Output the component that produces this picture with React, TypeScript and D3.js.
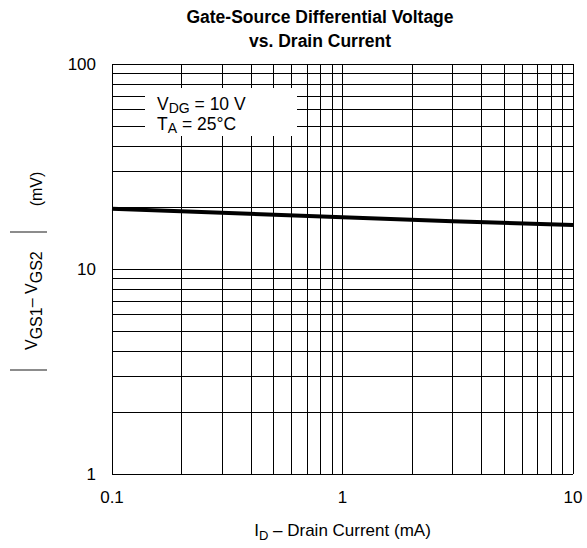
import { useEffect, useRef } from "react";
import * as d3 from "d3";

// drain current (mA) and |VGS1 - VGS2| (mV)
const currentMA = [0.1, 0.3, 1, 3, 10];
const diffMV = [19.7, 18.8, 17.9, 17.1, 16.4];

const xTickValues = [0.1, 1, 10];
const xTickLabels = ["0.1", "1", "10"];
const yTickValues = [1, 10, 100];
const yTickLabels = ["1", "10", "100"];

const titleLines = ["Gate-Source Differential Voltage", "vs. Drain Current"];

function App() {
  const ref = useRef<SVGSVGElement>(null);

  useEffect(() => {
    const width = 587;
    const height = 548;
    const margin = { top: 64, right: 14, bottom: 74, left: 112 };
    const font = "'Liberation Sans', Arial, sans-serif";

    const svg = d3.select(ref.current);
    svg.selectAll("*").remove();
    svg.attr("width", width).attr("height", height);

    const x = d3.scaleLog([0.1, 10], [margin.left, width - margin.right]);
    const y = d3.scaleLog([1, 100], [height - margin.bottom, margin.top]);

    // titre
    svg
      .append("g")
      .selectAll("text")
      .data(titleLines)
      .join("text")
      .attr("x", 320)
      .attr("y", (d, i) => 23 + i * 24)
      .attr("text-anchor", "middle")
      .attr("font-family", font)
      .attr("font-weight", "bold")
      .attr("font-size", 17.5)
      .text((d) => d);

    // grille (1..9 par décade)
    const minors: number[] = [];
    [0.1, 1].forEach((dec) => {
      for (let k = 1; k <= 10; k++) minors.push(dec * k);
    });
    const yMinors: number[] = [];
    [1, 10].forEach((dec) => {
      for (let k = 1; k <= 10; k++) yMinors.push(dec * k);
    });

    const grid = svg.append("g").attr("stroke", "#000").attr("stroke-width", 1);
    grid
      .selectAll(".v")
      .data(minors)
      .join("line")
      .attr("x1", (d) => Math.round(x(d)) + 0.5)
      .attr("x2", (d) => Math.round(x(d)) + 0.5)
      .attr("y1", y(100))
      .attr("y2", y(1));
    grid
      .selectAll(".h")
      .data(yMinors)
      .join("line")
      .attr("y1", (d) => Math.round(y(d)) + 0.5)
      .attr("y2", (d) => Math.round(y(d)) + 0.5)
      .attr("x1", x(0.1))
      .attr("x2", x(10));

    // courbe
    const line = d3
      .line<number>()
      .x((d, i) => x(currentMA[i]))
      .y((d) => y(d));
    svg
      .append("path")
      .datum(diffMV)
      .attr("d", line)
      .attr("fill", "none")
      .attr("stroke", "#000")
      .attr("stroke-width", 4);

    // boîte de légende
    svg
      .append("rect")
      .attr("x", 145)
      .attr("y", 88)
      .attr("width", 152)
      .attr("height", 48)
      .attr("fill", "#fff");

    const leg = svg
      .append("g")
      .attr("font-family", font)
      .attr("font-size", 17.5);
    const t1 = leg.append("text").attr("x", 157).attr("y", 110);
    t1.append("tspan").text("V");
    t1.append("tspan").attr("dy", 3).attr("font-size", 14).text("DG");
    t1.append("tspan").attr("dy", -3).text(" = 10 V");
    const t2 = leg.append("text").attr("x", 157).attr("y", 130);
    t2.append("tspan").text("T");
    t2.append("tspan").attr("dy", 3).attr("font-size", 14).text("A");
    t2.append("tspan").attr("dy", -3).text(" = 25\u00B0C");

    // graduations
    svg
      .append("g")
      .selectAll("text")
      .data(xTickValues)
      .join("text")
      .attr("x", (d) => x(d))
      .attr("y", height - margin.bottom + 29)
      .attr("text-anchor", "middle")
      .attr("font-family", font)
      .attr("font-size", 17)
      .text((d, i) => xTickLabels[i]);

    svg
      .append("g")
      .selectAll("text")
      .data(yTickValues)
      .join("text")
      .attr("x", margin.left - 16)
      .attr("y", (d) => y(d) + 6)
      .attr("text-anchor", "end")
      .attr("font-family", font)
      .attr("font-size", 17)
      .text((d, i) => yTickLabels[i]);

    // titre axe X
    const xt = svg
      .append("text")
      .attr("x", x(1))
      .attr("y", 536)
      .attr("text-anchor", "middle")
      .attr("font-family", font)
      .attr("font-size", 17);
    xt.append("tspan").text("I");
    xt.append("tspan").attr("dy", 4).attr("font-size", 13).text("D");
    xt.append("tspan").attr("dy", -4).text(" \u2013 Drain Current (mA)");

    // titre axe Y (tourné)
    const yt = svg.append("g").attr("transform", "rotate(-90)");
    [-370, -232].forEach((lx) => {
      yt.append("line")
        .attr("x1", lx)
        .attr("x2", lx)
        .attr("y1", 10)
        .attr("y2", 47)
        .attr("stroke", "#666")
        .attr("stroke-width", 1.3);
    });
    const ylab = yt
      .append("text")
      .attr("x", -350)
      .attr("y", 37)
      .attr("font-family", font)
      .attr("font-size", 16);
    ylab.append("tspan").text("V");
    ylab.append("tspan").attr("dy", 5).text("GS1");
    ylab.append("tspan").attr("dy", -5).text("\u2013 V");
    ylab.append("tspan").attr("dy", 5).text("GS2");
    yt.append("text")
      .attr("x", -189)
      .attr("y", 42)
      .attr("text-anchor", "middle")
      .attr("font-family", font)
      .attr("font-size", 16)
      .text("(mV)");
  }, []);

  return (
    <svg ref={ref} style={{ position: "absolute", left: 0, top: 0, background: "#fff" }}></svg>
  );
}

export default App;
